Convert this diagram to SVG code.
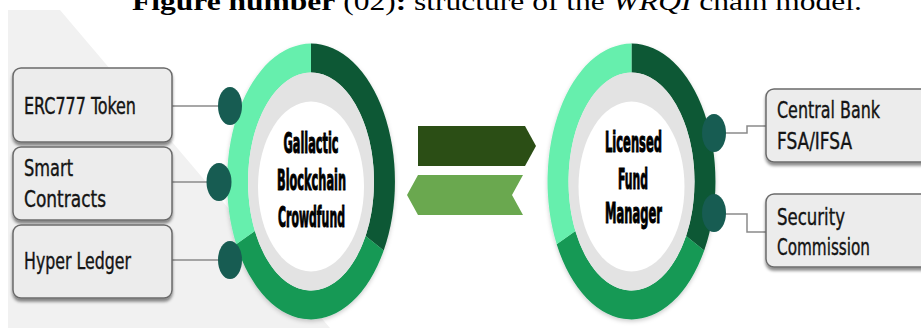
<svg xmlns="http://www.w3.org/2000/svg" xmlns:xlink="http://www.w3.org/1999/xlink" width="921" height="328" viewBox="0 0 921 328">
<style>
.box{fill:#ececec;stroke:#6b6b6b;stroke-width:1.5;filter:url(#sh)}
.lbl{font-family:"DejaVu Sans Condensed","DejaVu Sans",sans-serif;font-stretch:condensed;font-size:15px;fill:#141414;stroke:#141414;stroke-width:0.25}
.ctr{font-family:"DejaVu Sans Condensed","DejaVu Sans",sans-serif;font-stretch:condensed;font-weight:bold;font-size:14px;fill:#000;stroke:#000;stroke-width:0.5;text-anchor:middle}
.dot{fill:#175c52}
.con{fill:none;stroke:#8a8a8a;stroke-width:1.5}
</style>
<defs>
<filter id="sh" x="-10%" y="-10%" width="120%" height="130%">
<feDropShadow dx="0" dy="3" stdDeviation="1.5" flood-color="#000" flood-opacity="0.45"/>
</filter>
<filter id="rs" x="-10%" y="-10%" width="120%" height="120%">
<feDropShadow dx="0" dy="2" stdDeviation="2" flood-color="#000" flood-opacity="0.2"/>
</filter>
<g id="ring">
<g filter="url(#rs)">
<path fill="#0b5934" d="M 0 -138 A 84 138 0 0 1 72.7 69 L 54.6 54.5 A 63 109 0 0 0 0 -109 Z"/>
<path fill="#139955" d="M 72.7 69 A 84 138 0 0 1 -74.8 62.7 L -56.1 49.5 A 63 109 0 0 0 54.6 54.5 Z"/>
<path fill="#66efad" d="M -74.8 62.7 A 84 138 0 0 1 0 -138 L 0 -109 A 63 109 0 0 0 -56.1 49.5 Z"/>
</g>
<ellipse cx="0" cy="0" rx="63" ry="109" fill="#e3e3e3"/>
<ellipse cx="0" cy="5" rx="53" ry="85" fill="#ffffff"/>
</g>
</defs>
<rect width="921" height="328" fill="#ffffff"/>
<polygon points="8,10 60,10 330,328 8,328" fill="#f1f1f1"/>
<text x="132" y="10" textLength="730" lengthAdjust="spacingAndGlyphs" font-family="'Liberation Serif',serif" font-size="26" fill="#000"><tspan font-weight="bold">Figure number</tspan> (02)<tspan font-weight="bold">:</tspan> structure of the <tspan font-style="italic">WRQI</tspan> chain model.</text>

<g id="connectors">
<line class="con" x1="172" y1="106" x2="220" y2="106"/>
<line class="con" x1="172" y1="182" x2="210" y2="182"/>
<line class="con" x1="172" y1="260" x2="220" y2="260"/>
<polyline class="con" points="724,133 747,133 747,126 766,126"/>
<polyline class="con" points="724,214 747,214 747,232 766,232"/>
<polygon points="418,126 525,126 536,146 525,166 418,166" fill="#2b4e15"/>
<polygon points="418,175 523,175 512,195 523,215 418,215 407,195" fill="#6aa84f"/>
</g>

<g id="node-crowdfund">
<use xlink:href="#ring" href="#ring" transform="translate(311,181.5)"/>
<text class="ctr" transform="translate(311,153) scale(1,2.05)" textLength="55" lengthAdjust="spacingAndGlyphs">Gallactic</text>
<text class="ctr" transform="translate(311.5,190) scale(1,2.05)" textLength="69" lengthAdjust="spacingAndGlyphs">Blockchain</text>
<text class="ctr" transform="translate(311.5,227) scale(1,2.05)" textLength="67" lengthAdjust="spacingAndGlyphs">Crowdfund</text>
<ellipse class="dot" cx="230" cy="106" rx="12" ry="19"/>
<ellipse class="dot" cx="219" cy="182" rx="12.5" ry="19"/>
<ellipse class="dot" cx="230" cy="260" rx="12" ry="19"/>
</g>

<g id="node-fund-manager">
<use xlink:href="#ring" href="#ring" transform="translate(631.5,181.5)"/>
<text class="ctr" transform="translate(633.5,152) scale(1,2.05)" textLength="57" lengthAdjust="spacingAndGlyphs">Licensed</text>
<text class="ctr" transform="translate(633,189) scale(1,2.05)" textLength="30" lengthAdjust="spacingAndGlyphs">Fund</text>
<text class="ctr" transform="translate(633.5,223) scale(1,2.05)" textLength="57" lengthAdjust="spacingAndGlyphs">Manager</text>
<ellipse class="dot" cx="714" cy="133" rx="12" ry="19"/>
<ellipse class="dot" cx="714" cy="213" rx="12" ry="19"/>
</g>

<g id="node-erc777">
<rect class="box" x="13" y="68" width="159" height="74" rx="8"/>
<text class="lbl" transform="translate(24,114) scale(1,1.5)" textLength="112" lengthAdjust="spacingAndGlyphs">ERC777 Token</text>
</g>
<g id="node-smart-contracts">
<rect class="box" x="13" y="147" width="159" height="73" rx="8"/>
<text class="lbl" transform="translate(24,176) scale(1,1.5)" textLength="49" lengthAdjust="spacingAndGlyphs">Smart</text>
<text class="lbl" transform="translate(24,207) scale(1,1.5)" textLength="82" lengthAdjust="spacingAndGlyphs">Contracts</text>
</g>
<g id="node-hyper-ledger">
<rect class="box" x="13" y="225" width="159" height="73" rx="8"/>
<text class="lbl" transform="translate(24,269) scale(1,1.5)" textLength="107" lengthAdjust="spacingAndGlyphs">Hyper Ledger</text>
</g>
<g id="node-central-bank">
<rect class="box" x="766" y="89" width="170" height="73" rx="8"/>
<text class="lbl" transform="translate(777,118) scale(1,1.5)" textLength="103" lengthAdjust="spacingAndGlyphs">Central Bank</text>
<text class="lbl" transform="translate(777,149) scale(1,1.5)" textLength="75" lengthAdjust="spacingAndGlyphs">FSA/IFSA</text>
</g>
<g id="node-security-commission">
<rect class="box" x="766" y="194" width="170" height="73" rx="8"/>
<text class="lbl" transform="translate(777,225) scale(1,1.5)" textLength="68" lengthAdjust="spacingAndGlyphs">Security</text>
<text class="lbl" transform="translate(777,255) scale(1,1.5)" textLength="93" lengthAdjust="spacingAndGlyphs">Commission</text>
</g>
</svg>
